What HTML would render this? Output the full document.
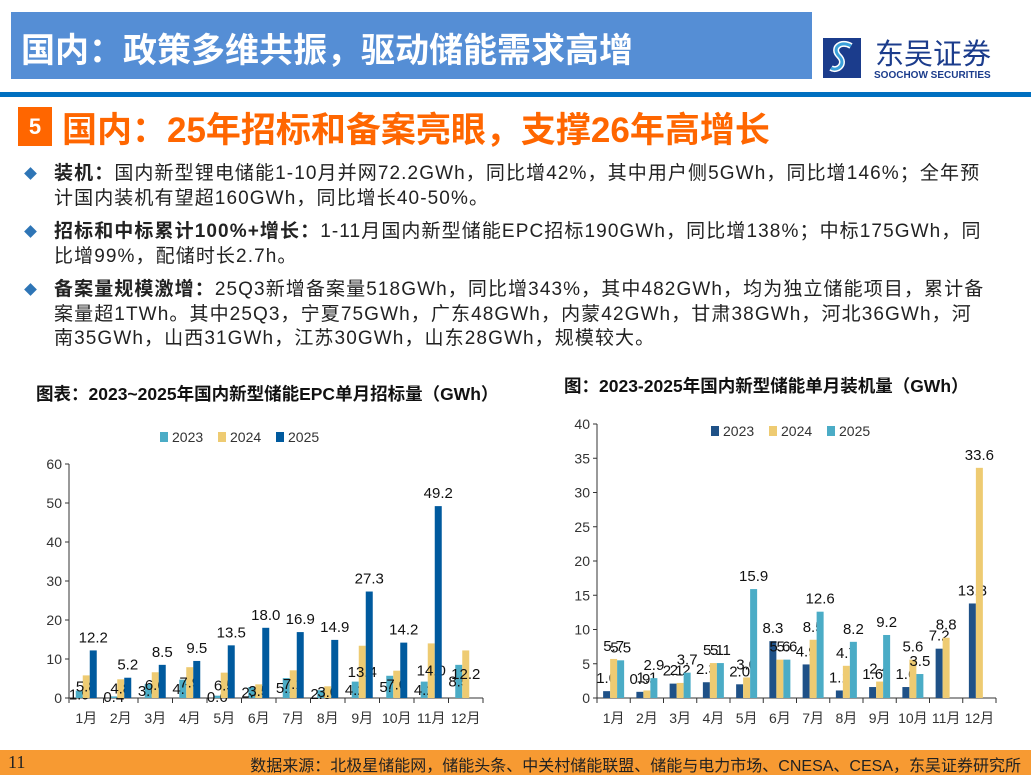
<!DOCTYPE html>
<html><head><meta charset="utf-8">
<style>
body{margin:0;width:1033px;height:776px;background:#fff;position:relative;overflow:hidden;font-family:"Liberation Sans","Noto Sans CJK SC",sans-serif;}
.abs{position:absolute;}
.hdr{left:11px;top:12px;width:801px;height:67px;background:#558ED5;}
.hdr span{position:absolute;left:10px;top:11px;color:#fff;font-weight:bold;font-size:34px;white-space:nowrap;}
.line{left:0;top:92px;width:1031px;height:5px;background:#0070C0;}
.num{left:18px;top:107px;width:34px;height:39px;background:#FF6600;color:#fff;font-weight:bold;font-size:22px;text-align:center;line-height:39px;}
.sub{left:62px;top:102px;color:#FF6600;font-weight:bold;font-size:35px;white-space:nowrap;}
.bul{left:26px;width:1000px;font-size:19px;letter-spacing:1.1px;color:#222;line-height:24.5px;white-space:nowrap;}
.bul .d{position:absolute;left:0;top:7px;width:9px;height:9px;background:#2E75B6;transform:rotate(45deg);}
.bul p{margin:0 0 0 28px;}
.ctitle{font-weight:bold;font-size:17.5px;color:#111;white-space:nowrap;}
.foot{left:0;top:750px;width:1031px;height:25px;background:#F79A32;}
</style></head><body>
<div class="abs hdr"><span>国内：政策多维共振，驱动储能需求高增</span></div>
<div class="abs" style="left:823px;top:36px;">
<svg width="190" height="44"><rect x="0" y="2" width="38" height="40" fill="#1B3C8C"/><path d="M28 10 C18 4,8 12,16 20 C24 28,14 36,8 32" stroke="#fff" stroke-width="6" fill="none"/><path d="M28 10 C18 4,8 12,16 20 C24 28,14 36,8 32" stroke="#3AA0DA" stroke-width="3" fill="none"/>
<text x="52" y="28" font-size="29" fill="#1B3C8C" font-family="Liberation Sans,Noto Sans CJK SC,sans-serif">东吴证券</text>
<text x="51" y="42" font-size="10" font-weight="bold" fill="#1B3C8C" font-family="Liberation Sans,sans-serif">SOOCHOW SECURITIES</text></svg></div>
<div class="abs line"></div>
<div class="abs num">5</div>
<div class="abs sub">国内：25年招标和备案亮眼，支撑26年高增长</div>
<div class="abs bul" style="top:162px"><div class="d"></div><p><b>装机：</b>国内新型锂电储能1-10月并网72.2GWh，同比增42%，其中用户侧5GWh，同比增146%；全年预<br>计国内装机有望超160GWh，同比增长40-50%。</p></div>
<div class="abs bul" style="top:220px"><div class="d"></div><p><b>招标和中标累计100%+增长：</b>1-11月国内新型储能EPC招标190GWh，同比增138%；中标175GWh，同<br>比增99%，配储时长2.7h。</p></div>
<div class="abs bul" style="top:278px"><div class="d"></div><p><b>备案量规模激增：</b>25Q3新增备案量518GWh，同比增343%，其中482GWh，均为独立储能项目，累计备<br>案量超1TWh。其中25Q3，宁夏75GWh，广东48GWh，内蒙42GWh，甘肃38GWh，河北36GWh，河<br>南35GWh，山西31GWh，江苏30GWh，山东28GWh，规模较大。</p></div>
<div class="abs ctitle" style="left:36px;top:381px">图表：2023~2025年国内新型储能EPC单月招标量（GWh）</div>
<div class="abs ctitle" style="left:564px;top:373px">图：2023-2025年国内新型储能单月装机量（GWh）</div>
<svg class="abs" style="left:0;top:0" width="1033" height="776" id="charts"></svg>
<div class="abs foot">
<span class="abs" style="left:8px;top:2px;font-size:18px;font-family:'Liberation Serif',serif;color:#222">11</span>
<span class="abs" style="right:10px;top:2px;font-size:16px;color:#222">数据来源：北极星储能网，储能头条、中关村储能联盟、储能与电力市场、CNESA、CESA，东吴证券研究所</span></div>
<script>
const months=["1月","2月","3月","4月","5月","6月","7月","8月","9月","10月","11月","12月"];
const epc2023=[1.9,0.4,3.6,4.7,0.6,2.8,5.1,2.0,4.2,5.7,4.2,8.5];
const epc2024=[5.8,4.8,6.6,7.9,6.5,3.5,7.1,3.0,13.4,7.0,14.0,12.2];
const epc2025=[12.2,5.2,8.5,9.5,13.5,18.0,16.9,14.9,27.3,14.2,49.2,null];
const epcTicks=[0,10,20,30,40,50,60];
const ins2023=[1.0,0.9,2.1,2.3,2.0,8.3,4.9,1.1,1.6,1.6,7.2,13.8];
const ins2024=[5.7,1.1,2.2,5.1,3.0,5.6,8.5,4.7,2.4,5.6,8.8,33.6];
const ins2025=[5.5,2.9,3.7,5.1,15.9,5.6,12.6,8.2,9.2,3.5,null,null];
const insTicks=[0,5,10,15,20,25,30,35,40];
const NS="http://www.w3.org/2000/svg";
const svg=document.getElementById('charts');
function mk(t,a,txt){const e=document.createElementNS(NS,t);for(const k in a)e.setAttribute(k,a[k]);if(txt!==undefined)e.textContent=txt;svg.appendChild(e);return e;}
function chart(cfg){
  const {x0,x1,y0,yTop,max,ticks,series,colors,names,legX,legY,pre,center}=cfg;
  const y=v=>y0-(v/max)*(y0-yTop);
  const cw=(x1-x0)/months.length;
  let a=mk('line',{x1:x0,y1:y0,x2:x0,y2:yTop,stroke:'#333'});
  
  a=mk('line',{x1:x0,y1:y0,x2:x1,y2:y0,stroke:'#333'});
  
  ticks.forEach(t=>{mk('line',{x1:x0-4,y1:y(t),x2:x0,y2:y(t),stroke:'#333'});
    const tl=mk('text',{x:x0-7,y:y(t)+5,'text-anchor':'end','font-size':14,fill:'#333'},t);
    });
  months.forEach((m,i)=>{
    mk('line',{x1:x0+i*cw,y1:y0,x2:x0+i*cw,y2:y0+5,stroke:'#333'});
    if(i==months.length-1)mk('line',{x1:x1,y1:y0,x2:x1,y2:y0+5,stroke:'#333'});
    const ml=mk('text',{x:x0+(i+0.5)*cw,y:y0+25,'text-anchor':'middle','font-size':14,fill:'#333'},m);
    
    const bw=7;
    series.forEach((s,k)=>{const v=s[i];if(v==null)return;
      const bx=x0+(i+0.5)*cw+(k-1.5)*bw;
      const r=mk('rect',{x:bx,y:y(v),width:bw,height:y0-y(v),fill:colors[k]});
      
      const ly=(center&&k<2)?(y(v)+y0)/2+5:y(v)-8;
      const lb=mk('text',{x:bx+bw/2,y:ly,'text-anchor':'middle','font-size':15,fill:'#111'},v.toFixed(1));
      });
  });
  names.forEach((n,k)=>{const lx=legX+k*58;
    const lr=mk('rect',{x:lx,y:legY-9,width:8,height:10,fill:colors[k]});
    
    const lt=mk('text',{x:lx+12,y:legY+1,'font-size':14,fill:'#333'},n);
    });
}
chart({pre:'epc',center:true,x0:69,x1:483,y0:698,yTop:464,max:60,ticks:epcTicks,series:[epc2023,epc2024,epc2025],colors:['#4BACC6','#EECB72','#005A9E'],names:['2023','2024','2025'],legX:160,legY:441});
chart({pre:'install',center:false,x0:597,x1:996,y0:698,yTop:424,max:40,ticks:insTicks,series:[ins2023,ins2024,ins2025],colors:['#1F5187','#EECB72','#4BACC6'],names:['2023','2024','2025'],legX:711,legY:435});
</script>
</body></html>
